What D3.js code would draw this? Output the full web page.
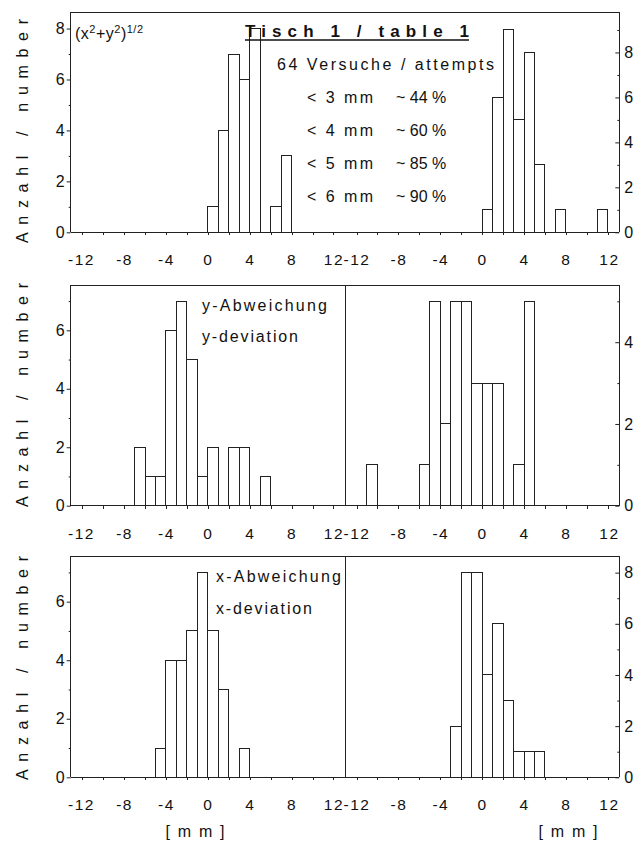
<!DOCTYPE html>
<html><head><meta charset="utf-8">
<script src="https://cdn.jsdelivr.net/npm/d3@7"></script>
<style>
body{margin:0;background:#fff}
svg{display:block}
text{font-family:"Liberation Sans",Arial,sans-serif;fill:#111}
</style>
</head><body><svg id="c" width="644" height="844"></svg>
<script>
// ---------- data (bin start in mm, bin width 1 mm, count) ----------
const xTickLabels = [-12, -8, -4, 0, 4, 8, 12];

const radialLeftBins   = [-12, -2, -1, 0, 1, 2, 3, 4, 5, 6, 7, 8];
const radialLeftCounts = [  0,  0,  0, 1, 4, 7, 6, 8, 0, 1, 3, 0];
const radialRightBins   = [-1, 0, 1, 2, 3, 4, 5, 6, 7, 8, 9, 10, 11];
const radialRightCounts = [ 0, 1, 6, 9, 5, 8, 3, 0, 1, 0, 0,  0,  1];

const yDevLeftBins   = [-12, -7, -6, -5, -4, -3, -2, -1, 0, 1, 2, 3, 4, 5, 6, 7];
const yDevLeftCounts = [  0,  2,  1,  1,  6,  7,  5,  1, 2, 0, 2, 2, 0, 1, 0, 0];
const yDevRightBins   = [-11, -10, -6, -5, -4, -3, -2, -1, 0, 1, 3, 4, 8, 9];
const yDevRightCounts = [  1,   0,  1,  5,  2,  5,  5,  3, 3, 3, 1, 5, 0, 0];

const xDevLeftBins   = [-12, -7, -6, -5, -4, -3, -2, -1, 0, 1, 2, 3, 4, 5, 6, 7];
const xDevLeftCounts = [  0,  0,  0,  1,  4,  4,  5,  7, 5, 3, 0, 1, 0, 0, 0, 0];
const xDevRightBins   = [-10, -9, -3, -2, -1, 0, 1, 2, 3, 4, 5, 10, 11];
const xDevRightCounts = [  0,  0,  2,  8,  8, 4, 6, 3, 1, 1, 1,  0,  0];

const yMaxLeft  = [8.65, 7.55, 7.56];
const yMaxRight = [9.8, 5.4, 8.65];
const yLabelsLeft  = [[0,2,4,6,8], [0,2,4,6], [0,2,4,6]];
const yLabelsRight = [[0,2,4,6,8], [0,2,4],   [0,2,4,6,8]];

const panelTitle = "Anzahl / number";
const unitLabel = "[ m m ]";
const statLines = [["< 3 mm", "~ 44 %"], ["< 4 mm", "~ 60 %"], ["< 5 mm", "~ 85 %"], ["< 6 mm", "~ 90 %"]];

// ---------- layout ----------
const svg = d3.select("#c");
const FF = '"Liberation Sans",Arial,sans-serif';
const X0 = 70.7, XM = 345, X1 = 619.3;
const rows = [
  {top: 12,  bottom: 232.3, divider: false, title: 131},
  {top: 285, bottom: 505.7, divider: true,  title: 395},
  {top: 556, bottom: 777.3, divider: true,  title: 668}
];
const data = [
  [[radialLeftBins, radialLeftCounts], [radialRightBins, radialRightCounts]],
  [[yDevLeftBins, yDevLeftCounts], [yDevRightBins, yDevRightCounts]],
  [[xDevLeftBins, xDevLeftCounts], [xDevRightBins, xDevRightCounts]]
];
const xL = d3.scaleLinear().domain([-13.1, 13.1]).range([X0, XM]);
const xR = d3.scaleLinear().domain([-13.1, 13.1]).range([XM, X1]);
const stroke = "#222";
const fmt = d => String(d);

rows.forEach((r, i) => {
  const g = svg.append("g");
  const yL = d3.scaleLinear().domain([0, yMaxLeft[i]]).range([r.bottom, r.top]);
  const yR = d3.scaleLinear().domain([0, yMaxRight[i]]).range([r.bottom, r.top]);

  [[xL, yL, data[i][0], -1.2], [xR, yR, data[i][1], 1.2]].forEach(([x, y, [bins, counts], nudge]) => {
    g.append("g").selectAll("rect").data(bins.map((b, k) => ({b, c: counts[k]})))
      .join("rect")
      .attr("x", d => x(d.b)).attr("width", d => x(d.b + 1) - x(d.b))
      .attr("y", d => y(d.c)).attr("height", d => y(0) - y(d.c))
      .attr("fill", "#fff").attr("stroke", stroke).attr("stroke-width", 1)
      .attr("shape-rendering", "crispEdges");

    // x axis
    const ax = g.append("g").attr("transform", `translate(0,${r.bottom})`)
      .call(d3.axisBottom(x).tickValues(d3.range(-12, 13, 2)).tickSize(3).tickPadding(19)
        .tickFormat(d => xTickLabels.includes(d) ? fmt(d) : ""));
    ax.select(".domain").remove();
    ax.selectAll("line").attr("stroke", stroke).attr("shape-rendering", "crispEdges");
    ax.selectAll("text").attr("font-size", 15.5).attr("letter-spacing", 1.5).attr("fill", "#111")
      .attr("font-family", FF)
      .attr("dx", d => Math.abs(d) === 12 && Math.sign(d) === Math.sign(nudge) ? nudge : 0);
  });

  // frame
  const fr = g.append("g").attr("stroke", stroke).attr("stroke-width", 1).attr("shape-rendering", "crispEdges");
  fr.append("line").attr("x1", X0).attr("x2", X1).attr("y1", r.top).attr("y2", r.top);
  fr.append("line").attr("x1", X0).attr("x2", X1).attr("y1", r.bottom).attr("y2", r.bottom);
  fr.append("line").attr("x1", X0).attr("x2", X0).attr("y1", r.top).attr("y2", r.bottom);
  fr.append("line").attr("x1", X1).attr("x2", X1).attr("y1", r.top).attr("y2", r.bottom);
  if (r.divider) fr.append("line").attr("x1", XM).attr("x2", XM).attr("y1", r.top).attr("y2", r.bottom);

  // left y axis
  const minorL = d3.range(1, Math.floor(yMaxLeft[i]) + 1, 2);
  const la = g.append("g").attr("transform", `translate(${X0},0)`)
    .call(d3.axisLeft(yL).tickValues(yLabelsLeft[i]).tickSize(4).tickPadding(2).tickFormat(fmt));
  la.append("g").call(d3.axisLeft(yL).tickValues(minorL).tickSize(2).tickFormat(""));
  la.selectAll(".domain").remove();
  la.selectAll("line").attr("stroke", stroke);
  la.selectAll("text").attr("font-size", 16).attr("fill", "#111").attr("font-family", FF);

  // right y axis (ticks inward)
  const minorR = d3.range(1, Math.floor(yMaxRight[i]) + 1, 2);
  const ra = g.append("g").attr("transform", `translate(${X1},0)`)
    .call(d3.axisRight(yR).tickValues(yLabelsRight[i]).tickSize(-4).tickPadding(5).tickFormat(fmt));
  ra.append("g").call(d3.axisRight(yR).tickValues(minorR).tickSize(-2).tickFormat(""));
  ra.selectAll(".domain").remove();
  ra.selectAll("line").attr("stroke", stroke);
  ra.selectAll("text").attr("font-size", 16).attr("fill", "#111").attr("font-family", FF);

  // y title
  svg.append("text").attr("transform", `translate(22,${r.title}) rotate(-90)`)
    .attr("text-anchor", "middle").attr("dominant-baseline", "central")
    .attr("font-size", 16).attr("textLength", 224).attr("lengthAdjust", "spacing")
    .text(panelTitle);
});

// ---------- annotations ----------
const t1 = svg.append("text").attr("x", 75).attr("y", 39).attr("font-size", 16).attr("letter-spacing", 0.5);
t1.append("tspan").text("(x");
t1.append("tspan").attr("font-size", 11).attr("dy", -6).text("2");
t1.append("tspan").attr("dy", 6).text("+y");
t1.append("tspan").attr("font-size", 11).attr("dy", -6).text("2");
t1.append("tspan").attr("dy", 6).text(")");
t1.append("tspan").attr("font-size", 11).attr("dy", -6).text("1/2");

svg.append("text").attr("x", 245).attr("y", 37).attr("font-size", 17).attr("font-weight", "bold")
  .attr("textLength", 224).attr("lengthAdjust", "spacing").text("Tisch 1 / table 1");
svg.append("line").attr("x1", 245).attr("x2", 469).attr("y1", 40).attr("y2", 40)
  .attr("stroke", "#111").attr("stroke-width", 1.4);

svg.append("text").attr("x", 277).attr("y", 70).attr("font-size", 16)
  .attr("textLength", 217).attr("lengthAdjust", "spacing").text("64 Versuche / attempts");

statLines.forEach((s, k) => {
  const yy = 102.5 + k * 33;
  svg.append("text").attr("x", 307).attr("y", yy).attr("font-size", 16)
    .attr("textLength", 66).attr("lengthAdjust", "spacing").text(s[0]);
  svg.append("text").attr("x", 396).attr("y", yy).attr("font-size", 16)
    .style("white-space", "pre").text(s[1]);
});

svg.append("text").attr("x", 202).attr("y", 310.5).attr("font-size", 16)
  .attr("textLength", 125).attr("lengthAdjust", "spacing").text("y-Abweichung");
svg.append("text").attr("x", 202).attr("y", 342).attr("font-size", 16)
  .attr("textLength", 96).attr("lengthAdjust", "spacing").text("y-deviation");
svg.append("text").attr("x", 216).attr("y", 582).attr("font-size", 16)
  .attr("textLength", 125).attr("lengthAdjust", "spacing").text("x-Abweichung");
svg.append("text").attr("x", 216).attr("y", 614).attr("font-size", 16)
  .attr("textLength", 96).attr("lengthAdjust", "spacing").text("x-deviation");

[195, 568].forEach(cx => {
  svg.append("text").attr("x", cx - 29.5).attr("y", 837).attr("font-size", 16)
    .attr("textLength", 59).attr("lengthAdjust", "spacing").text(unitLabel);
});
</script>
</body></html>
